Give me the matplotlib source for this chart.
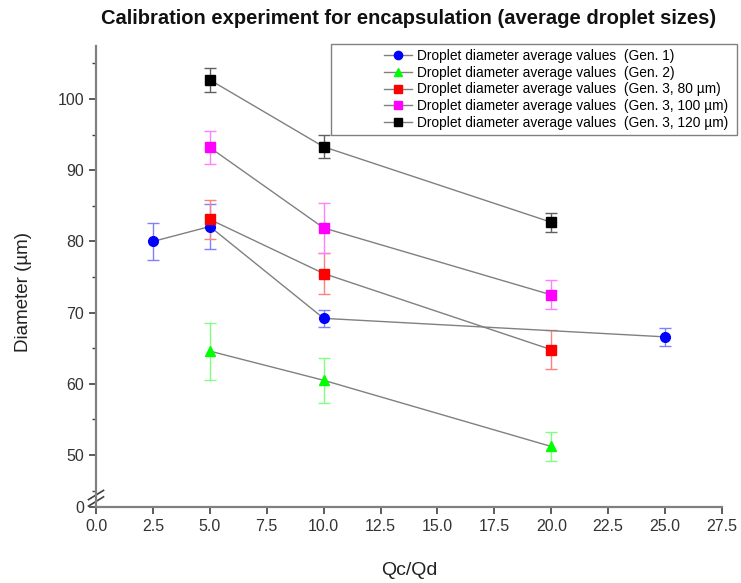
import numpy as np
import matplotlib.pyplot as plt
from matplotlib.patches import Rectangle

plt.rcParams['font.family'] = ['Liberation Sans', 'DejaVu Sans']

# data
x_gen1 = [2.5, 5, 10, 25]
y_gen1 = [80.0, 82.1, 69.2, 66.6]
e_gen1 = [2.55, 3.2, 1.2, 1.25]

x_gen2 = [5, 10, 20]
y_gen2 = [64.6, 60.5, 51.2]
e_gen2 = [4.0, 3.15, 2.0]

x_g3 = [5, 10, 20]
y_80 = [83.1, 75.5, 64.8]
e_80 = [2.7, 2.9, 2.7]
y_100 = [93.2, 81.9, 72.5]
e_100 = [2.25, 3.5, 2.05]
y_120 = [102.7, 93.3, 82.7]
e_120 = [1.7, 1.6, 1.3]

labels = ['Droplet diameter average values  (Gen. 1)',
          'Droplet diameter average values  (Gen. 2)',
          'Droplet diameter average values  (Gen. 3, 80 µm)',
          'Droplet diameter average values  (Gen. 3, 100 µm)',
          'Droplet diameter average values  (Gen. 3, 120 µm)']

# broken axis: bottom of the visible range stands for 0
y_bottom = 42.7

fig = plt.figure(figsize=(7.41, 5.83), dpi=100)
ax = fig.add_axes([96/741, 1-507/583, (722-96)/741, (507-45.7)/583])

series = [
    (x_gen1, y_gen1, e_gen1, 'o', '#0000ff', '#8080ff'),
    (x_gen2, y_gen2, e_gen2, '^', '#00ff00', '#80ff80'),
    (x_g3, y_80, e_80, 's', '#ff0000', '#ff8080'),
    (x_g3, y_100, e_100, 's', '#ff00ff', '#ff80ff'),
    (x_g3, y_120, e_120, 's', '#000000', '#606060'),
]
handles = []
for (xs, ys, es, m, c, ec), lab in zip(series, labels):
    ax.errorbar(xs, ys, yerr=es, fmt='none', ecolor=ec, elinewidth=1, capsize=4, capthick=1, zorder=2)
    h, = ax.plot(xs, ys, color='#808080', lw=1, marker=m, ms=7 if m != 's' else 6.5,
                 mfc=c, mec=c, label=lab, zorder=3)
    handles.append(h)

ax.set_xlim(0, 27.5)
ax.set_ylim(y_bottom, 107.5)
ax.set_xticks(np.arange(0, 27.6, 2.5))
ax.set_xticklabels([f'{v:.1f}' for v in np.arange(0, 27.6, 2.5)])
ax.set_yticks([y_bottom, 50, 60, 70, 80, 90, 100])
ax.set_yticklabels(['0', '50', '60', '70', '80', '90', '100'])
ax.set_yticks([45, 55, 65, 75, 85, 95, 105], minor=True)

for s in ['top', 'right']:
    ax.spines[s].set_visible(False)
for s in ['left', 'bottom']:
    ax.spines[s].set_color('#808080')
    ax.spines[s].set_linewidth(1.6)
ax.tick_params(axis='both', which='major', length=5, width=1.2, color='#404040',
               labelsize=11.5, labelcolor='#333333')
ax.tick_params(axis='y', which='minor', length=3, width=1, color='#404040')

# break marks on the y axis
kw = dict(transform=ax.transAxes, color='#404040', lw=1.2, clip_on=False)
for dy in (0.012, 0.026):
    ax.plot([-0.012, 0.012], [dy - 0.01, dy + 0.01], **kw)

fig.text(409/741, 1-19/583, 'Calibration experiment for encapsulation (average droplet sizes)',
         fontsize=14.5, fontweight='bold', color='#111111', ha='center', va='center')
ax.set_xlabel('Qc/Qd', fontsize=14, color='#222222', labelpad=20)
ax.set_ylabel('Diameter (µm)', fontsize=13.5, color='#222222')
ax.yaxis.set_label_coords(-(96-32)/626, 0.466)

# legend: box drawn separately, entries sit right in it
fig.patches.append(Rectangle((331/741, 1-135/583), (737-331)/741, (135-44)/583,
                             transform=fig.transFigure, fill=False, edgecolor='#808080', lw=1))
leg = fig.legend(handles=handles, loc='upper right', bbox_to_anchor=(728/741, 1-49/583),
                 fontsize=9.9, frameon=False,
                 handlelength=2.0, handletextpad=0.35, labelspacing=0.2,
                 borderpad=0.0, borderaxespad=0, markerscale=0.85)

fig.savefig('out.png', dpi=100)
